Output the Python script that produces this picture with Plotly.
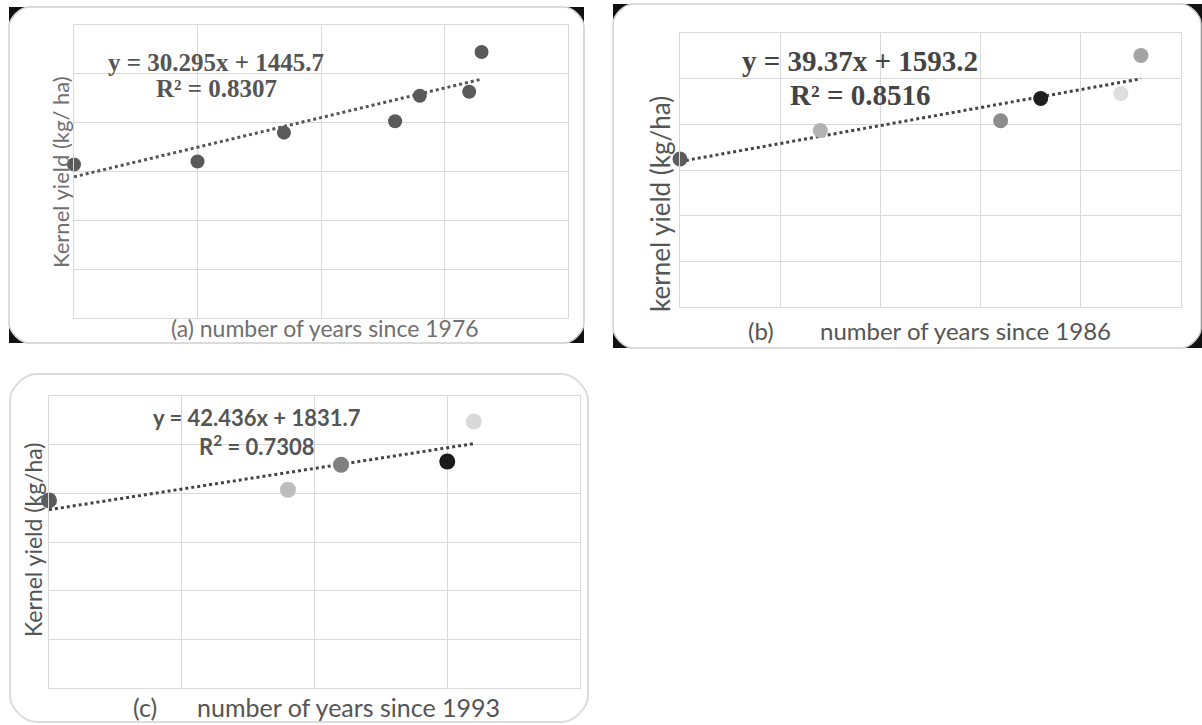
import plotly.graph_objects as go

W, H = 1202, 725

# ---------------- data ----------------
a_x = [0, 10, 17, 26, 28, 32, 33]
a_y = [1571, 1602, 1898, 2015, 2276, 2316, 2724]
a_coef = [30.295, 1445.7]
a_r2 = "0.8307"

b_x = [0, 7, 16, 18, 22, 23]
b_y = [1620, 1933, 2040, 2283, 2337, 2753]
b_coef = [39.37, 1593.2]
b_r2 = "0.8516"

c_x = [0, 9, 11, 15, 16]
c_y = [1927, 2037, 2294, 2327, 2738]
c_coef = [42.436, 1831.7]
c_r2 = "0.7308"

a_colors = ["#5a5a5a"] * 7
b_colors = ["#5c5c5c", "#b3b3b3", "#8c8c8c", "#1e1e1e", "#dedede", "#a3a3a3"]
c_colors = ["#5c5c5c", "#bdbdbd", "#808080", "#1a1a1a", "#d9d9d9"]

y_ticks = [0, 500, 1000, 1500, 2000, 2500, 3000]


def px(x):
    return x / W


def py(y):
    return 1 - y / H


def rounded_path(x0, y0, x1, y1, r):
    k = 0.45 * r
    pts = [
        f"M {px(x0 + r)},{py(y0)}",
        f"L {px(x1 - r)},{py(y0)}",
        f"C {px(x1 - r + k)},{py(y0)} {px(x1)},{py(y0 + r - k)} {px(x1)},{py(y0 + r)}",
        f"L {px(x1)},{py(y1 - r)}",
        f"C {px(x1)},{py(y1 - r + k)} {px(x1 - r + k)},{py(y1)} {px(x1 - r)},{py(y1)}",
        f"L {px(x0 + r)},{py(y1)}",
        f"C {px(x0 + r - k)},{py(y1)} {px(x0)},{py(y1 - r + k)} {px(x0)},{py(y1 - r)}",
        f"L {px(x0)},{py(y0 + r)}",
        f"C {px(x0)},{py(y0 + r - k)} {px(x0 + r - k)},{py(y0)} {px(x0 + r)},{py(y0)}",
        "Z",
    ]
    return " ".join(pts)


fig = go.Figure()

panels = [
    ("a", a_x, a_y, a_colors, a_coef, 40, 10, (74, 25, 568, 318), 14, "#555555"),
    ("b", b_x, b_y, b_colors, b_coef, 25, 5, (680, 33, 1181, 307), 15, "#444444"),
    ("c", c_x, c_y, c_colors, c_coef, 20, 5, (49, 396, 580, 688), 16, "#444444"),
]

layout_axes = {}
for i, (name, xs, ys, cols, coef, xmax, dt, box, msize, lcol) in enumerate(panels):
    idx = "" if i == 0 else str(i + 1)
    l, t, r, b = box
    xa = "x" + idx
    ya = "y" + idx
    xmin_d, xmax_d = min(xs), max(xs)
    fig.add_trace(go.Scatter(
        x=[xmin_d, xmax_d],
        y=[coef[0] * xmin_d + coef[1], coef[0] * xmax_d + coef[1]],
        mode="lines", line=dict(color=lcol, width=3, dash="dot"),
        xaxis=xa, yaxis=ya, showlegend=False, hoverinfo="skip",
    ))
    fig.add_trace(go.Scatter(
        x=xs, y=ys, mode="markers",
        marker=dict(size=msize, color=cols, line=dict(width=0)),
        xaxis=xa, yaxis=ya, showlegend=False, cliponaxis=False,
    ))
    axcommon = dict(showgrid=True, gridcolor="#d9d9d9", gridwidth=1,
                    showline=True, linecolor="#d9d9d9", linewidth=1, mirror=True,
                    zeroline=False, showticklabels=False, ticks="", fixedrange=True)
    layout_axes["xaxis" + idx] = dict(domain=[px(l), px(r)], range=[0, xmax], dtick=dt,
                                      tick0=0, anchor=ya, **axcommon)
    layout_axes["yaxis" + idx] = dict(domain=[py(b), py(t)], range=[0, 3000],
                                      tickvals=y_ticks, anchor=xa, **axcommon)

shapes = []
shapes.append(dict(type="rect", xref="paper", yref="paper", x0=px(9), x1=px(584),
                   y0=py(343), y1=py(7), fillcolor="#111111", line=dict(width=0), layer="below"))
shapes.append(dict(type="path", xref="paper", yref="paper", path=rounded_path(9, 7, 584, 343, 20),
                   fillcolor="white", line=dict(color="#cfcfcf", width=1.5), layer="below"))
shapes.append(dict(type="rect", xref="paper", yref="paper", x0=px(613), x1=px(1202),
                   y0=py(348), y1=py(4), fillcolor="#111111", line=dict(width=0), layer="below"))
shapes.append(dict(type="path", xref="paper", yref="paper", path=rounded_path(613, 4, 1201, 348, 20),
                   fillcolor="white", line=dict(color="#cfcfcf", width=1.5), layer="below"))
shapes.append(dict(type="path", xref="paper", yref="paper", path=rounded_path(10, 374, 588, 722, 26),
                   fillcolor="white", line=dict(color="#dcdcdc", width=2), layer="below"))

ann = []


def add_text(text, x, y, size, color, family, angle=0, bold=False):
    if bold:
        text = "<b>" + text + "</b>"
    ann.append(dict(text=text, x=px(x), y=py(y), xref="paper", yref="paper",
                    xanchor="center", yanchor="middle", showarrow=False, textangle=angle,
                    font=dict(size=size, color=color, family=family)))


serif = "Liberation Serif, Times New Roman, serif"
sans = "Lato, Open Sans, sans-serif"

# panel (a)
add_text(f"y = {a_coef[0]}x + {a_coef[1]}", 216, 62, 25, "#555555", serif, bold=True)
add_text(f"R² = {a_r2}", 216, 89, 25, "#555555", serif, bold=True)
add_text("Kernel yield (kg/ ha)", 60, 172, 22, "#707070", sans, angle=-90)
add_text("(a) number of years since 1976", 325, 328, 23, "#707070", sans)

# panel (b)
add_text(f"y = {b_coef[0]}x + {b_coef[1]}", 860, 61, 29, "#444444", serif, bold=True)
add_text(f"R² = {b_r2}", 860, 95, 29, "#444444", serif, bold=True)
add_text("kernel yield (kg/ha)", 660, 204, 26, "#555555", sans, angle=-90)
add_text("(b)", 761, 330, 24, "#555555", sans)
add_text("number of years since 1986", 965, 330, 24, "#555555", sans)

# panel (c)
add_text(f"y = {c_coef[0]}x + {c_coef[1]}", 257, 417, 22, "#555555", sans, bold=True)
add_text(f"R<sup>2</sup> = {c_r2}", 257, 445, 22, "#555555", sans, bold=True)
add_text("Kernel yield (kg/ha)", 33, 540, 23, "#555555", sans, angle=-90)
add_text("(c)", 145, 707, 25, "#555555", sans)
add_text("number of years since 1993", 348, 707, 25, "#555555", sans)

fig.update_layout(
    width=W, height=H,
    margin=dict(l=0, r=0, t=0, b=0),
    paper_bgcolor="white", plot_bgcolor="rgba(0,0,0,0)",
    showlegend=False,
    shapes=shapes, annotations=ann,
    **layout_axes,
)

fig.write_html("out.html",
               config={"displayModeBar": False},
               post_script="document.body.style.margin='0';document.body.style.overflow='hidden';")
